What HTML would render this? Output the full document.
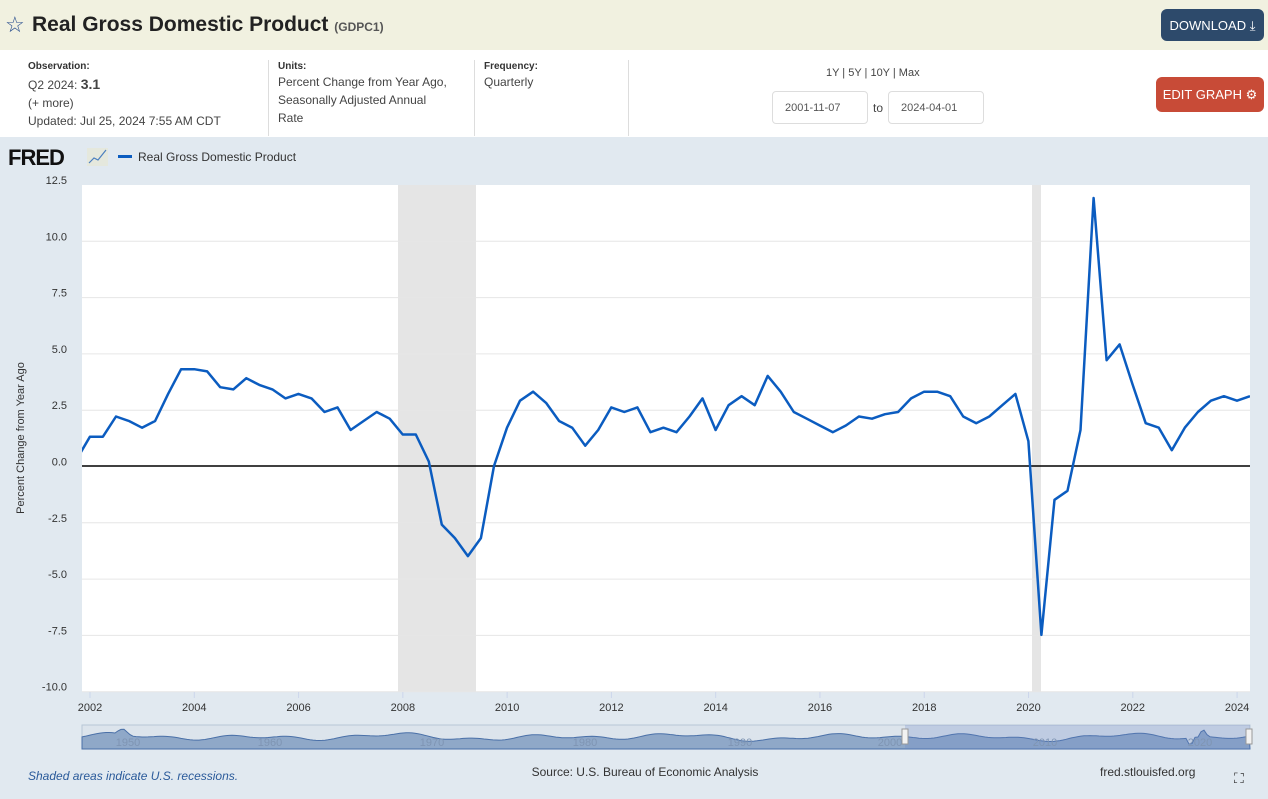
<!DOCTYPE html>
<html><head><meta charset="utf-8"><style>
*{margin:0;padding:0;box-sizing:border-box}
body{width:1268px;height:799px;overflow:hidden;font-family:"Liberation Sans",sans-serif;background:#e1e9f0;position:relative;color:#333}
.hdr{position:absolute;left:0;top:0;width:1268px;height:50px;background:#f1f1e0}
.title{position:absolute;left:32px;top:13px;font-size:21px;font-weight:bold;color:#222}
.title small{font-size:12px;color:#555;font-weight:bold}
.star{position:absolute;left:5px;top:12px;font-size:22px;color:#2a4f8f}
.btn{position:absolute;color:#fff;font-size:13px;border-radius:6px;text-align:center}
.info{position:absolute;left:0;top:50px;width:1268px;height:87px;background:#fff}
.lbl{position:absolute;font-size:10px;font-weight:bold;color:#333}
.val{position:absolute;font-size:12px;color:#444;line-height:18px}
.sep{position:absolute;top:60px;width:1px;height:76px;background:#ddd}
.date{position:absolute;top:91px;width:96px;height:33px;border:1px solid #ddd;border-radius:4px;background:#fff;font-size:11px;color:#555;padding:10px 0 0 12px}
</style></head><body>
<div class="hdr"><span class="star">☆</span><div class="title">Real Gross Domestic Product <small>(GDPC1)</small></div>
<div class="btn" style="left:1161px;top:9px;width:103px;height:32px;background:#2d4a6b;padding-top:9px">DOWNLOAD ⤓</div></div>
<div class="info">
<div class="lbl" style="left:28px;top:11px">Observation:</div>
<div class="val" style="left:28px;top:25px">Q2 2024: <b style="font-size:14px">3.1</b><br>(+ more)<br>Updated: Jul 25, 2024 7:55 AM CDT</div>
<div class="lbl" style="left:278px;top:11px">Units:</div>
<div class="val" style="left:278px;top:23px">Percent Change from Year Ago,<br>Seasonally Adjusted Annual<br>Rate</div>
<div class="lbl" style="left:484px;top:11px">Frequency:</div>
<div class="val" style="left:484px;top:23px">Quarterly</div>
<div class="val" style="left:826px;top:14px;font-size:11px">1Y | 5Y | 10Y | Max</div>
<div class="date" style="left:772px;top:41px">2001-11-07</div>
<div class="val" style="left:873px;top:49px">to</div>
<div class="date" style="left:888px;top:41px">2024-04-01</div>
<div class="btn" style="left:1156px;top:27px;width:108px;height:35px;background:#c84b37;padding-top:10px">EDIT GRAPH ⚙</div>
</div>
<div class="sep" style="left:268px"></div><div class="sep" style="left:474px"></div><div class="sep" style="left:628px"></div>
<svg width="1268" height="799" style="position:absolute;left:0;top:0" id="s" font-family="Liberation Sans, sans-serif">
<text x="8" y="165" font-size="22" font-weight="bold" fill="#111" letter-spacing="-1">FRED</text>
<rect x="87" y="148" width="21" height="18" fill="#e5e8dd"/>
<polyline points="89,163 94,158 98,160 106,150" fill="none" stroke="#4b7fbf" stroke-width="1.2"/>
<rect x="118" y="155" width="14" height="3" fill="#0b5cc0"/>
<text x="138" y="161" font-size="12" fill="#333">Real Gross Domestic Product</text>
<rect x="82" y="185" width="1168" height="507" fill="#fff"/>
<rect x="398" y="185" width="78" height="507" fill="#e5e5e5"/>
<rect x="1032" y="185" width="9" height="507" fill="#e5e5e5"/>
<g id="grid"></g>
<line x1="82" y1="466" x2="1250" y2="466" stroke="#000" stroke-width="1.5"/>
<polyline id="ln" fill="none" stroke="#0b5cc0" stroke-width="2.5" stroke-linejoin="round" clip-path="url(#c)"/>
<clipPath id="c"><rect x="82" y="185" width="1168" height="507"/></clipPath>
<text transform="translate(24,438) rotate(-90)" text-anchor="middle" font-size="11" fill="#333">Percent Change from Year Ago</text>
<rect x="82" y="725" width="1168" height="24" fill="#dce4ec" stroke="#b8c6d6"/>
<path id="nav" fill="#8fa8c8" stroke="#4a70a8" stroke-width="1"/>
<rect x="905" y="725" width="345" height="24" fill="rgba(102,133,194,0.25)"/>
<rect x="902" y="729" width="6" height="15" fill="#f2f2f2" stroke="#999"/>
<rect x="1246" y="729" width="6" height="15" fill="#f2f2f2" stroke="#999"/>
<text x="28" y="780" font-size="12" font-style="italic" fill="#2a5a9a">Shaded areas indicate U.S. recessions.</text>
<text x="645" y="776" font-size="12" fill="#333" text-anchor="middle">Source: U.S. Bureau of Economic Analysis</text>
<text x="1100" y="776" font-size="12" fill="#333">fred.stlouisfed.org</text>
<text x="1234" y="783" font-size="14" fill="#333">⛶</text>
</svg>
<script>
var s="http://www.w3.org/2000/svg",g=document.getElementById('grid');
function el(t,a,p,tx){var e=document.createElementNS(s,t);for(var k in a)e.setAttribute(k,a[k]);if(tx)e.textContent=tx;(p||g).appendChild(e);return e}
var labs=["12.5","10.0","7.5","5.0","2.5","0.0","-2.5","-5.0","-7.5","-10.0"];
for(var i=0;i<10;i++){var y=185+i*56.3;if(i>0&&i!=5)el('line',{x1:82,x2:1250,y1:y,y2:y,stroke:'#e6e6e6'});
el('text',{x:67,y:y-1,'font-size':11,fill:'#333','text-anchor':'end'},null,labs[i]);}
for(var yr=2002;yr<=2024;yr+=2){var x=90+(yr-2002)*52.14;el('line',{x1:x,x2:x,y1:692,y2:698,stroke:'#ccd6eb'});
el('text',{x:x,y:711,'font-size':11,fill:'#333','text-anchor':'middle'},null,yr);}
var v=[0.3,1.3,1.3,2.2,2.0,1.7,2.0,3.2,4.3,4.3,4.2,3.5,3.4,3.9,3.6,3.4,3.0,3.2,3.0,2.4,2.6,1.6,2.0,2.4,2.1,1.4,1.4,0.2,-2.6,-3.2,-4.0,-3.2,0.0,1.7,2.9,3.3,2.8,2.0,1.7,0.9,1.6,2.6,2.4,2.6,1.5,1.7,1.5,2.2,3.0,1.6,2.7,3.1,2.7,4.0,3.3,2.4,2.1,1.8,1.5,1.8,2.2,2.1,2.3,2.4,3.0,3.3,3.3,3.1,2.2,1.9,2.2,2.7,3.2,1.1,-7.5,-1.5,-1.1,1.6,11.9,4.7,5.4,3.6,1.9,1.7,0.7,1.7,2.4,2.9,3.1,2.9,3.1];
var p=[];var x0=1250-(v.length-1)*13.035;for(var i=0;i<v.length;i++)p.push((x0+i*13.035).toFixed(1)+','+(466-v[i]*22.52).toFixed(1));
document.getElementById('ln').setAttribute('points',p.join(' '));
var d='M82,749';for(var x=82;x<=1250;x+=3){var y=737+2*Math.sin(x/23)+1.5*Math.sin(x/9.7)+1.2*Math.cos(x/41);if(Math.abs(x-123)<8)y-=6-Math.abs(x-123)*0.7;if(Math.abs(x-1203)<5)y-=8-Math.abs(x-1203)*1.5;if(Math.abs(x-1190)<4)y+=6;d+=' L'+x+','+y.toFixed(1);}
d+=' L1250,749Z';document.getElementById('nav').setAttribute('d',d);
var nl=[[128,"1950"],[270,"1960"],[432,"1970"],[585,"1980"],[740,"1990"],[890,"2000"],[1045,"2010"],[1200,"2020"]];
nl.forEach(function(a){el('text',{x:a[0],y:746,'font-size':11,fill:'#7f95b3','text-anchor':'middle'},document.getElementById('s'),a[1])});
</script>
</body></html>
